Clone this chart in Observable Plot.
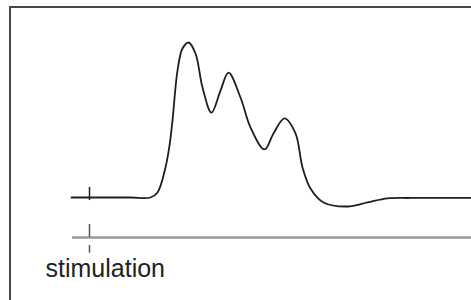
<!DOCTYPE html>
<html>
<head>
<meta charset="utf-8">
<script src="https://cdn.jsdelivr.net/npm/d3@7"></script>
<script src="https://cdn.jsdelivr.net/npm/@observablehq/plot@0.6"></script>
<style>
  html, body { margin: 0; padding: 0; background: #fff; overflow: hidden; }
  #wrap { position: relative; width: 471px; height: 300px; overflow: hidden; }
  #frame { position: absolute; left: 9px; top: 6px; width: 520px; height: 360px; border: 2px solid #474747; box-sizing: border-box; pointer-events: none; }
  #chart { position: absolute; left: 0; top: 0; }
</style>
</head>
<body>
<div id="wrap"><div id="chart"></div><div id="frame"></div></div>
<script>
// time (ms after stimulation) and response amplitude (% of max peak)
const times = [-9, 0, 20.5, 30.5, 34, 38, 40, 41.5, 44, 46.5, 49.5, 53, 56.5, 61, 65.5, 69.5, 75.5, 80.5, 87.5, 92, 97.5, 103, 106.5, 110.5, 117, 129, 139, 149, 160.5, 191];
const amplitude = [0, 0, 0, 0, 3.2, 19.4, 33.5, 49.7, 81.9, 96.1, 100, 92.9, 71, 54.8, 69, 80.6, 64.5, 45.2, 31, 41.3, 51, 41.3, 19.4, 5.8, -3.2, -5.8, -3.2, -0.6, -0.3, -0.3];
const stimulusTime = 0;
const stimTrackLevel = -25.8;
const trackStart = -8.5;
const trackEnd = 191;
const labelText = "stimulation";

const trace = times.map((t, i) => ({t, a: amplitude[i]}));

const plot = Plot.plot({
  width: 471,
  height: 300,
  margin: 0,
  x: {domain: [-44.5, 191], range: [0, 471], axis: null},
  y: {domain: [-66.45, 127.1], range: [300, 0], axis: null},
  style: {background: "transparent", fontFamily: "'Liberation Sans', Arial, sans-serif"},
  marks: [
    // stimulation track
    Plot.ruleY([stimTrackLevel], {x1: trackStart, x2: trackEnd, stroke: "#9a9a9a", strokeWidth: 2.5}),
    Plot.ruleX([stimulusTime], {y1: -17.4, y2: -36, stroke: "#555", strokeWidth: 1.5, strokeDasharray: "13,8"}),
    // tick on the trace baseline
    Plot.ruleX([stimulusTime], {y1: 6.5, y2: -2, stroke: "#222", strokeWidth: 1.5}),
    // response trace
    Plot.line(trace, {x: "t", y: "a", curve: "catmull-rom", stroke: "#1e1e1e", strokeWidth: 1.8}),
    // label
    Plot.text([labelText], {x: stimulusTime, y: -51, text: d => d, textAnchor: "start", lineAnchor: "bottom", dx: -44, fontSize: 25, fill: "#222"})
  ]
});
document.getElementById("chart").appendChild(plot);
</script>
</body>
</html>
